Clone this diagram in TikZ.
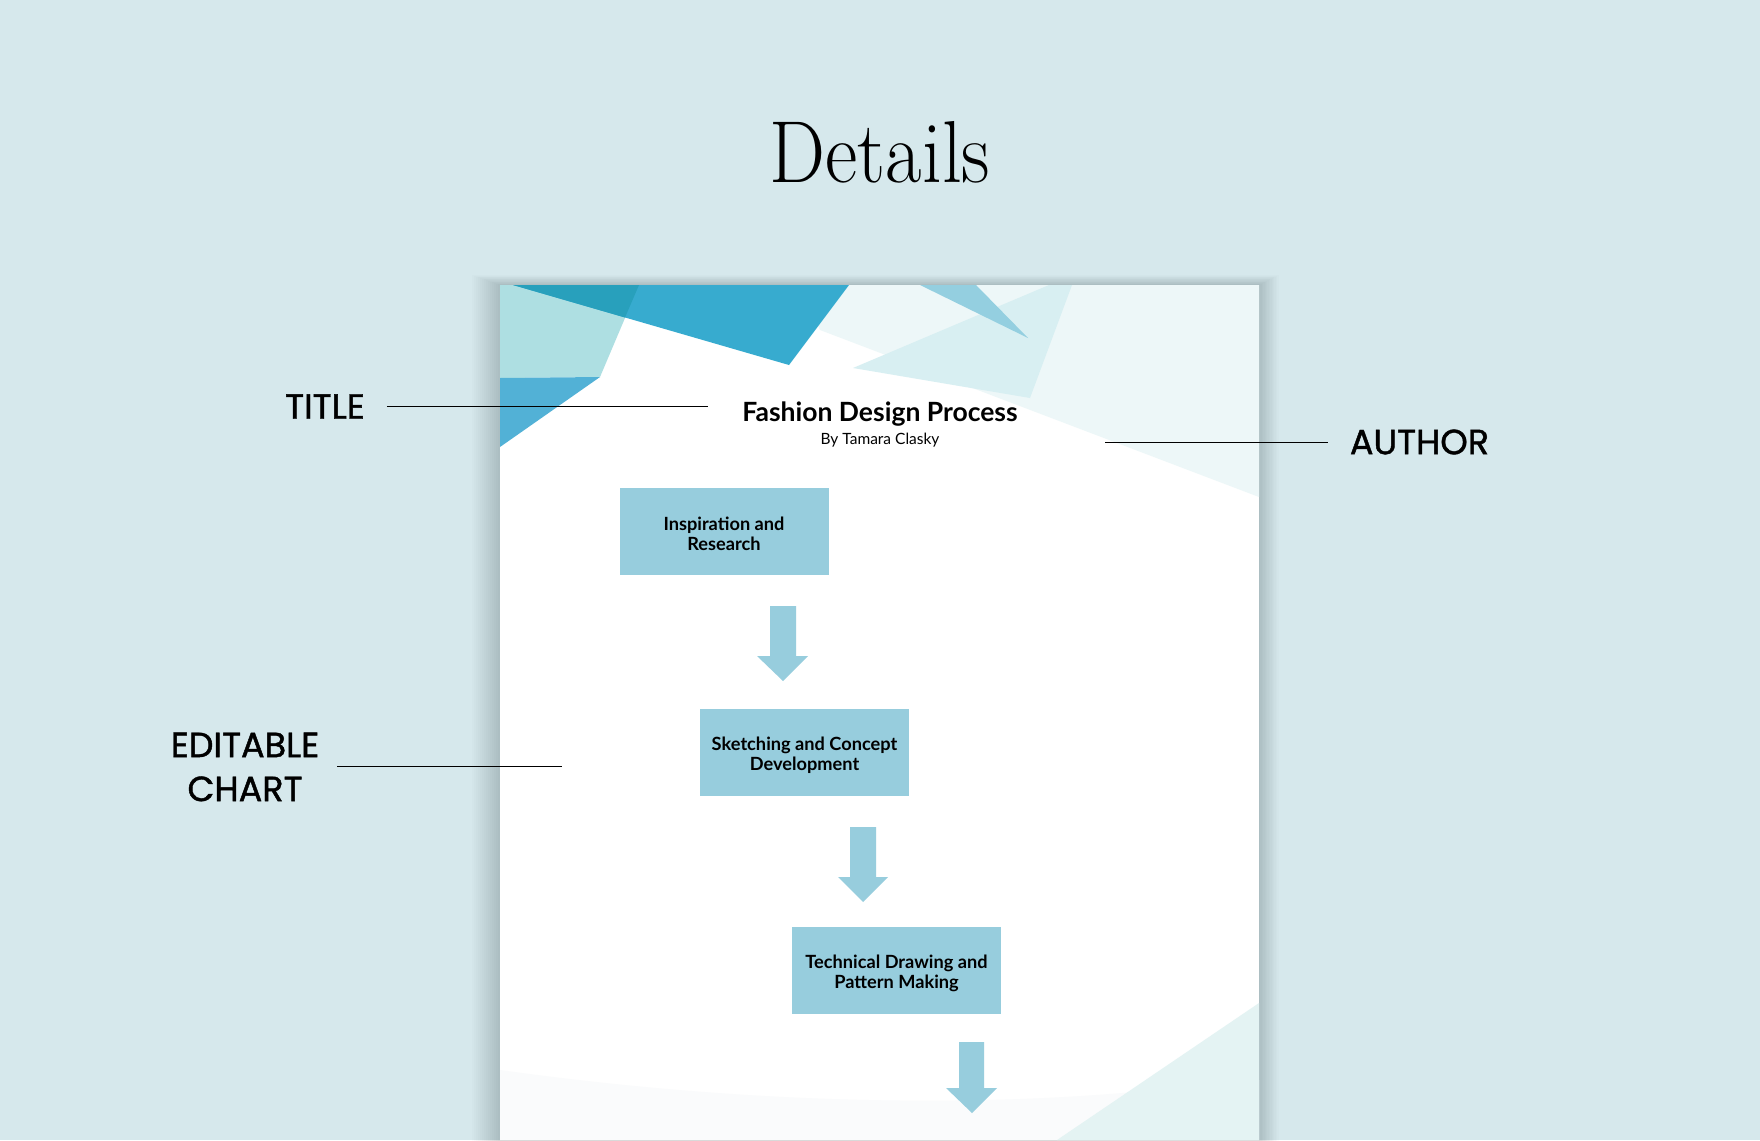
\documentclass[tikz,border=0pt]{standalone}
\usepackage{fontspec}
\newfontfamily\popfont[FakeBold=1.2]{Poppins}
\newfontfamily\latofont{Lato}
\definecolor{bgc}{RGB}{214,232,236}
\definecolor{boxc}{RGB}{151,205,221}
\definecolor{tealL}{RGB}{174,223,226}
\definecolor{blueB}{RGB}{55,171,207}
\definecolor{blueLL}{RGB}{82,177,214}
\definecolor{blueD}{RGB}{40,160,188}
\definecolor{triR}{RGB}{148,207,224}
\definecolor{quadR}{RGB}{216,239,242}
\definecolor{paleR}{RGB}{237,247,248}
\definecolor{paleB}{RGB}{228,243,243}
\definecolor{faintG}{RGB}{250,251,252}
\tikzset{
  lbl/.style={font=\popfont\fontsize{35}{42}\selectfont, inner sep=0pt, text=black},
  leader/.style={draw=black, line width=1pt},
  stepbox/.style={fill=boxc, draw=none, minimum width=209pt, minimum height=87pt, inner sep=0pt},
  steptext/.style={inner sep=0pt, align=center, font=\latofont\bfseries\fontsize{18.2}{20}\selectfont, text=black},
  blockarrow/.style={fill=boxc, draw=none}
}
\begin{document}
\begin{tikzpicture}[x=1pt,y=-1pt]
\useasboundingbox (0,0) rectangle (1760,1140);
\fill[bgc] (0,0) rectangle (1760,1140);
% page shadow
\foreach \d in {28,26,...,2}{
  \fill[black, opacity=0.011] (500-\d,285-\d*0.35) rectangle (1259+\d*0.7,1145);
}
% page
\fill[white] (500,285) rectangle (1259,1140);
% decorations top
\fill[paleR] (800,285) -- (1259,285) -- (1259,497) -- (820,330) -- cycle;
\fill[quadR] (853,368) -- (1049,285) -- (1072,285) -- (1030,398) -- cycle;
\fill[triR] (920,285) -- (976,285) -- (1028,338) -- cycle;
\fill[tealL] (500,285) -- (639,285) -- (600,377) -- (500,378) -- cycle;
\fill[blueB] (513,285) -- (849,285) -- (789,365) -- cycle;
\fill[blueD] (513,285) -- (639,285) -- (625,317.5) -- cycle;
\fill[blueLL] (500,378) -- (600,377) -- (500,447) -- cycle;
% bottom decorations
\fill[faintG] (500,1070) .. controls (750,1105) and (1000,1110) .. (1200,1085) -- (1259,1080) -- (1259,1140) -- (500,1140) -- cycle;
\fill[paleB] (1057,1140) -- (1259,1003) -- (1259,1140) -- cycle;
% heading
\node[inner sep=0pt, font=\fontsize{88}{92}\selectfont] (details) at (880,152) {\scalebox{0.9}[1]{Details}};
% document title
\node[inner sep=0pt, font=\latofont\bfseries\fontsize{26.5}{30}\selectfont, anchor=base] (doctitle) at (880,421) {Fashion Design Process};
\node[inner sep=0pt, font=\latofont\fontsize{15.5}{18}\selectfont, anchor=base] (docauthor) at (880,444) {By Tamara Clasky};
% boxes
\node[stepbox] (b1) at (724,531) {};
\node[stepbox] (b2) at (804.5,752.5) {};
\node[stepbox] (b3) at (896.5,970.5) {};
\node[steptext] (t1) at ([yshift=-3pt]b1.center) {Inspiration and\\Research};
\node[steptext] (t2) at ([yshift=-3pt]b2.center) {Sketching and Concept\\Development};
\node[steptext] (t3) at ([yshift=-3pt]b3.center) {Technical Drawing and\\Pattern Making};
% block arrows
\fill[blockarrow] (770,606) -- (796,606) -- (796,656) -- (808,656) -- (783,681) -- (757,656) -- (770,656) -- cycle;
\fill[blockarrow] (850,827) -- (876,827) -- (876,877) -- (888,877) -- (863,902) -- (838,877) -- (850,877) -- cycle;
\fill[blockarrow] (959,1042) -- (984,1042) -- (984,1088) -- (997,1088) -- (972,1113) -- (946,1088) -- (959,1088) -- cycle;
% labels
\node[lbl] (ltitle) at (325,406.5) {TITLE};
\node[lbl] (lauthor) at (1419.5,442) {AUTHOR};
\node[lbl, align=center, font=\popfont\fontsize{35}{44}\selectfont] (lchart) at (245,767) {EDITABLE\\CHART};
\coordinate (ctitle) at (708,406.5);
\coordinate (cauthor) at (1105,442);
\coordinate (cchart) at (562,766);
\draw[leader] (ltitle.east) ++(22,0) -- (ctitle);
\draw[leader] (cauthor) -- ([xshift=-22pt]lauthor.west);
\draw[leader] ([xshift=18pt]lchart.east |- cchart) -- (cchart);
\end{tikzpicture}
\end{document}
